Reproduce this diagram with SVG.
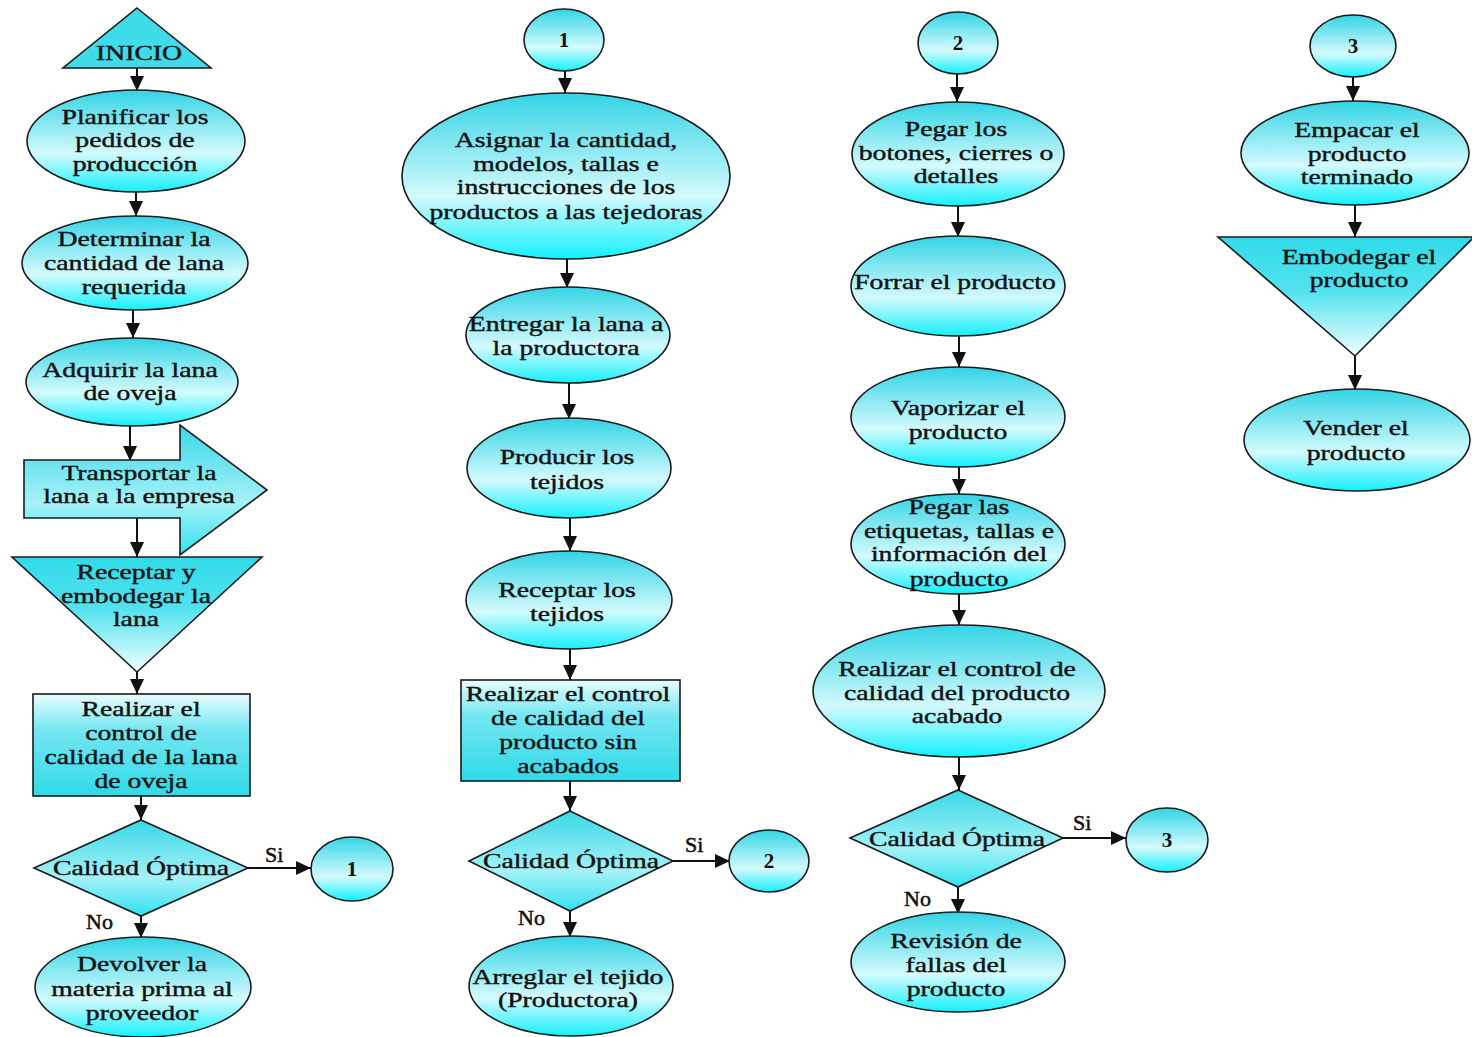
<svg xmlns="http://www.w3.org/2000/svg" width="1472" height="1037" viewBox="0 0 1472 1037">
<style>
.s{stroke:#1a1a1a;stroke-width:1.6}
.e{fill:url(#gE)}
.d{fill:url(#gD)}
.r{fill:url(#gR)}
.v{fill:url(#gV)}
.t{font-family:"Liberation Serif","Times New Roman",serif;font-size:21px;fill:#111;stroke:#111;stroke-width:0.4;text-anchor:middle}
.n{font-family:"Liberation Serif","Times New Roman",serif;font-size:21px;font-weight:bold;fill:#111;text-anchor:middle}
.l{font-family:"Liberation Serif","Times New Roman",serif;font-size:22px;fill:#111;stroke:#111;stroke-width:0.5}
.c{stroke:#111;stroke-width:2;fill:none;marker-end:url(#ah)}
</style>
<defs>
<linearGradient id="gE" x1="0" y1="0" x2="0" y2="1">
<stop offset="0" stop-color="#33d4e5"/>
<stop offset="0.62" stop-color="#d4fafd"/>
<stop offset="1" stop-color="#14f0fd"/>
</linearGradient>
<linearGradient id="gD" x1="0" y1="0" x2="0" y2="1">
<stop offset="0" stop-color="#38d8e7"/>
<stop offset="0.6" stop-color="#a6f1f7"/>
<stop offset="1" stop-color="#30e2f0"/>
</linearGradient>
<linearGradient id="gR" x1="0" y1="0" x2="0" y2="1">
<stop offset="0" stop-color="#eafdfe"/>
<stop offset="0.35" stop-color="#74e6f1"/>
<stop offset="1" stop-color="#30dae8"/>
</linearGradient>
<linearGradient id="gV" x1="0" y1="0" x2="0" y2="1">
<stop offset="0" stop-color="#30dbe8"/>
<stop offset="0.45" stop-color="#52e2ee"/>
<stop offset="1" stop-color="#f2ffff"/>
</linearGradient>
<marker id="ah" markerUnits="userSpaceOnUse" markerWidth="16" markerHeight="16" refX="15" refY="7" orient="auto">
<path d="M0,0 L15,7 L0,14 z" fill="#111"/>
</marker>
</defs>

<g id="connectors">
<path class="c" d="M137,68 V91"/>
<path class="c" d="M136,192 V216"/>
<path class="c" d="M133,310 V338"/>
<path class="c" d="M130,425 V461"/>
<path class="c" d="M137,518 V557"/>
<path class="c" d="M137,672 V694"/>
<path class="c" d="M141,796 V820"/>
<path class="c" d="M248,868 H311"/>
<path class="c" d="M141,916 V938"/>
<path class="c" d="M565,71 V93"/>
<path class="c" d="M567,259 V288"/>
<path class="c" d="M569,383 V419"/>
<path class="c" d="M570,518 V551"/>
<path class="c" d="M570,649 V680"/>
<path class="c" d="M570,781 V811"/>
<path class="c" d="M673,861 H730"/>
<path class="c" d="M570,911 V937"/>
<path class="c" d="M957,74 V102"/>
<path class="c" d="M958,206 V237"/>
<path class="c" d="M959,336 V367"/>
<path class="c" d="M959,467 V494"/>
<path class="c" d="M959,594 V625"/>
<path class="c" d="M959,757 V790"/>
<path class="c" d="M1063,838 H1126"/>
<path class="c" d="M958,887 V914"/>
<path class="c" d="M1353,77 V101"/>
<path class="c" d="M1355,205 V237"/>
<path class="c" d="M1355,356 V390"/>
<text class="l" x="265" y="862">Si</text>
<text class="l" x="86" y="929">No</text>
<text class="l" x="685" y="852">Si</text>
<text class="l" x="518" y="925">No</text>
<text class="l" x="1073" y="830">Si</text>
<text class="l" x="904" y="906">No</text>
</g>

<g id="inicio">
<polygon class="s" points="137,8 211,68 63,68" fill="#3fdbe8"/>
<text class="t" transform="matrix(1.32 0 0 1 139 0)"><tspan x="0" y="60">INICIO</tspan></text>
</g>
<g id="planificar">
<ellipse class="s e" cx="136" cy="141" rx="109" ry="51"/>
<text class="t" transform="matrix(1.32 0 0 1 135 0)"><tspan x="0" y="124">Planificar los</tspan><tspan x="0" y="147">pedidos de</tspan><tspan x="0" y="171">producción</tspan></text>
</g>
<g id="determinar">
<ellipse class="s e" cx="135" cy="263" rx="113" ry="47"/>
<text class="t" transform="matrix(1.32 0 0 1 134 0)"><tspan x="0" y="246">Determinar la</tspan><tspan x="0" y="270">cantidad de lana</tspan><tspan x="0" y="294">requerida</tspan></text>
</g>
<g id="adquirir">
<ellipse class="s e" cx="132" cy="382" rx="106" ry="44"/>
<text class="t" transform="matrix(1.32 0 0 1 130 0)"><tspan x="0" y="377">Adquirir la lana</tspan><tspan x="0" y="400">de oveja</tspan></text>
</g>
<g id="transportar">
<polygon class="s" points="24,460 180,460 180,425 267,490 180,555 180,518 24,518" fill="url(#gD)"/>
<text class="t" transform="matrix(1.32 0 0 1 139 0)"><tspan x="0" y="480">Transportar la</tspan><tspan x="0" y="503">lana a la empresa</tspan></text>
</g>
<g id="receptar-lana">
<polygon class="s v" points="12,557 262,557 137,672"/>
<text class="t" transform="matrix(1.32 0 0 1 136 0)"><tspan x="0" y="579">Receptar y</tspan><tspan x="0" y="603">embodegar la</tspan><tspan x="0" y="626">lana</tspan></text>
</g>
<g id="control-lana">
<rect class="s r" x="33" y="694" width="217" height="102"/>
<text class="t" transform="matrix(1.32 0 0 1 141 0)"><tspan x="0" y="716">Realizar el</tspan><tspan x="0" y="740">control de</tspan><tspan x="0" y="764">calidad de la lana</tspan><tspan x="0" y="788">de oveja</tspan></text>
</g>
<g id="decision-1">
<polygon class="s d" points="141,820 248,868 141,916 34,868"/>
<text class="t" transform="matrix(1.32 0 0 1 141 0)"><tspan x="0" y="875">Calidad Óptima</tspan></text>
</g>
<g id="conector-1a">
<ellipse class="s e" cx="352" cy="869" rx="41" ry="32"/>
<text class="n" x="352" y="876">1</text>
</g>
<g id="devolver">
<ellipse class="s e" cx="143" cy="987" rx="108" ry="50"/>
<text class="t" transform="matrix(1.32 0 0 1 142 0)"><tspan x="0" y="971">Devolver la</tspan><tspan x="0" y="996">materia prima al</tspan><tspan x="0" y="1020">proveedor</tspan></text>
</g>

<g id="conector-1b">
<ellipse class="s e" cx="564" cy="40" rx="40" ry="31"/>
<text class="n" x="564" y="47">1</text>
</g>
<g id="asignar">
<ellipse class="s e" cx="566" cy="176" rx="164" ry="83"/>
<text class="t" transform="matrix(1.32 0 0 1 566 0)"><tspan x="0" y="147">Asignar la cantidad,</tspan><tspan x="0" y="171">modelos, tallas e</tspan><tspan x="0" y="194">instrucciones de los</tspan><tspan x="0" y="219">productos a las tejedoras</tspan></text>
</g>
<g id="entregar">
<ellipse class="s e" cx="568" cy="335" rx="102" ry="48"/>
<text class="t" transform="matrix(1.32 0 0 1 566 0)"><tspan x="0" y="331">Entregar la lana a</tspan><tspan x="0" y="355">la productora</tspan></text>
</g>
<g id="producir">
<ellipse class="s e" cx="569" cy="468" rx="102" ry="50"/>
<text class="t" transform="matrix(1.32 0 0 1 567 0)"><tspan x="0" y="464">Producir los</tspan><tspan x="0" y="489">tejidos</tspan></text>
</g>
<g id="receptar-tejidos">
<ellipse class="s e" cx="569" cy="600" rx="103" ry="49"/>
<text class="t" transform="matrix(1.32 0 0 1 567 0)"><tspan x="0" y="597">Receptar los</tspan><tspan x="0" y="621">tejidos</tspan></text>
</g>
<g id="control-sin-acabados">
<rect class="s r" x="461" y="680" width="219" height="101"/>
<text class="t" transform="matrix(1.32 0 0 1 568 0)"><tspan x="0" y="701">Realizar el control</tspan><tspan x="0" y="725">de calidad del</tspan><tspan x="0" y="749">producto sin</tspan><tspan x="0" y="773">acabados</tspan></text>
</g>
<g id="decision-2">
<polygon class="s d" points="570,811 673,861 570,911 469,861"/>
<text class="t" transform="matrix(1.32 0 0 1 571 0)"><tspan x="0" y="868">Calidad Óptima</tspan></text>
</g>
<g id="conector-2a">
<ellipse class="s e" cx="769" cy="861" rx="40" ry="31"/>
<text class="n" x="769" y="868">2</text>
</g>
<g id="arreglar">
<ellipse class="s e" cx="571" cy="986" rx="102" ry="50"/>
<text class="t" transform="matrix(1.32 0 0 1 568 0)"><tspan x="0" y="984">Arreglar el tejido</tspan><tspan x="0" y="1007">(Productora)</tspan></text>
</g>

<g id="conector-2b">
<ellipse class="s e" cx="958" cy="43" rx="40" ry="31"/>
<text class="n" x="958" y="50">2</text>
</g>
<g id="pegar-botones">
<ellipse class="s e" cx="958" cy="154" rx="106" ry="52"/>
<text class="t" transform="matrix(1.32 0 0 1 956 0)"><tspan x="0" y="136">Pegar los</tspan><tspan x="0" y="160">botones, cierres o</tspan><tspan x="0" y="183">detalles</tspan></text>
</g>
<g id="forrar">
<ellipse class="s e" cx="958" cy="286" rx="107" ry="50"/>
<text class="t" transform="matrix(1.32 0 0 1 955 0)"><tspan x="0" y="289">Forrar el producto</tspan></text>
</g>
<g id="vaporizar">
<ellipse class="s e" cx="958" cy="417" rx="107" ry="50"/>
<text class="t" transform="matrix(1.32 0 0 1 958 0)"><tspan x="0" y="415">Vaporizar el</tspan><tspan x="0" y="439">producto</tspan></text>
</g>
<g id="pegar-etiquetas">
<ellipse class="s e" cx="958" cy="544" rx="107" ry="50"/>
<text class="t" transform="matrix(1.32 0 0 1 959 0)"><tspan x="0" y="514">Pegar las</tspan><tspan x="0" y="538">etiquetas, tallas e</tspan><tspan x="0" y="561">información del</tspan><tspan x="0" y="586">producto</tspan></text>
</g>
<g id="control-acabado">
<ellipse class="s e" cx="959" cy="691" rx="146" ry="66"/>
<text class="t" transform="matrix(1.32 0 0 1 957 0)"><tspan x="0" y="676">Realizar el control de</tspan><tspan x="0" y="700">calidad del producto</tspan><tspan x="0" y="723">acabado</tspan></text>
</g>
<g id="decision-3">
<polygon class="s d" points="958,790 1063,838 958,887 850,838"/>
<text class="t" transform="matrix(1.32 0 0 1 957 0)"><tspan x="0" y="846">Calidad Óptima</tspan></text>
</g>
<g id="conector-3a">
<ellipse class="s e" cx="1167" cy="840" rx="41" ry="32"/>
<text class="n" x="1167" y="847">3</text>
</g>
<g id="revision">
<ellipse class="s e" cx="958" cy="962" rx="107" ry="50"/>
<text class="t" transform="matrix(1.32 0 0 1 956 0)"><tspan x="0" y="948">Revisión de</tspan><tspan x="0" y="972">fallas del</tspan><tspan x="0" y="996">producto</tspan></text>
</g>

<g id="conector-3b">
<ellipse class="s e" cx="1353" cy="46" rx="43" ry="31"/>
<text class="n" x="1353" y="53">3</text>
</g>
<g id="empacar">
<ellipse class="s e" cx="1355" cy="153" rx="114" ry="52"/>
<text class="t" transform="matrix(1.32 0 0 1 1357 0)"><tspan x="0" y="137">Empacar el</tspan><tspan x="0" y="161">producto</tspan><tspan x="0" y="184">terminado</tspan></text>
</g>
<g id="embodegar-producto">
<polygon class="s v" points="1218,237 1474,237 1355,356"/>
<text class="t" transform="matrix(1.32 0 0 1 1359 0)"><tspan x="0" y="264">Embodegar el</tspan><tspan x="0" y="287">producto</tspan></text>
</g>
<g id="vender">
<ellipse class="s e" cx="1357" cy="440" rx="113" ry="51"/>
<text class="t" transform="matrix(1.32 0 0 1 1356 0)"><tspan x="0" y="435">Vender el</tspan><tspan x="0" y="460">producto</tspan></text>
</g>
</svg>
